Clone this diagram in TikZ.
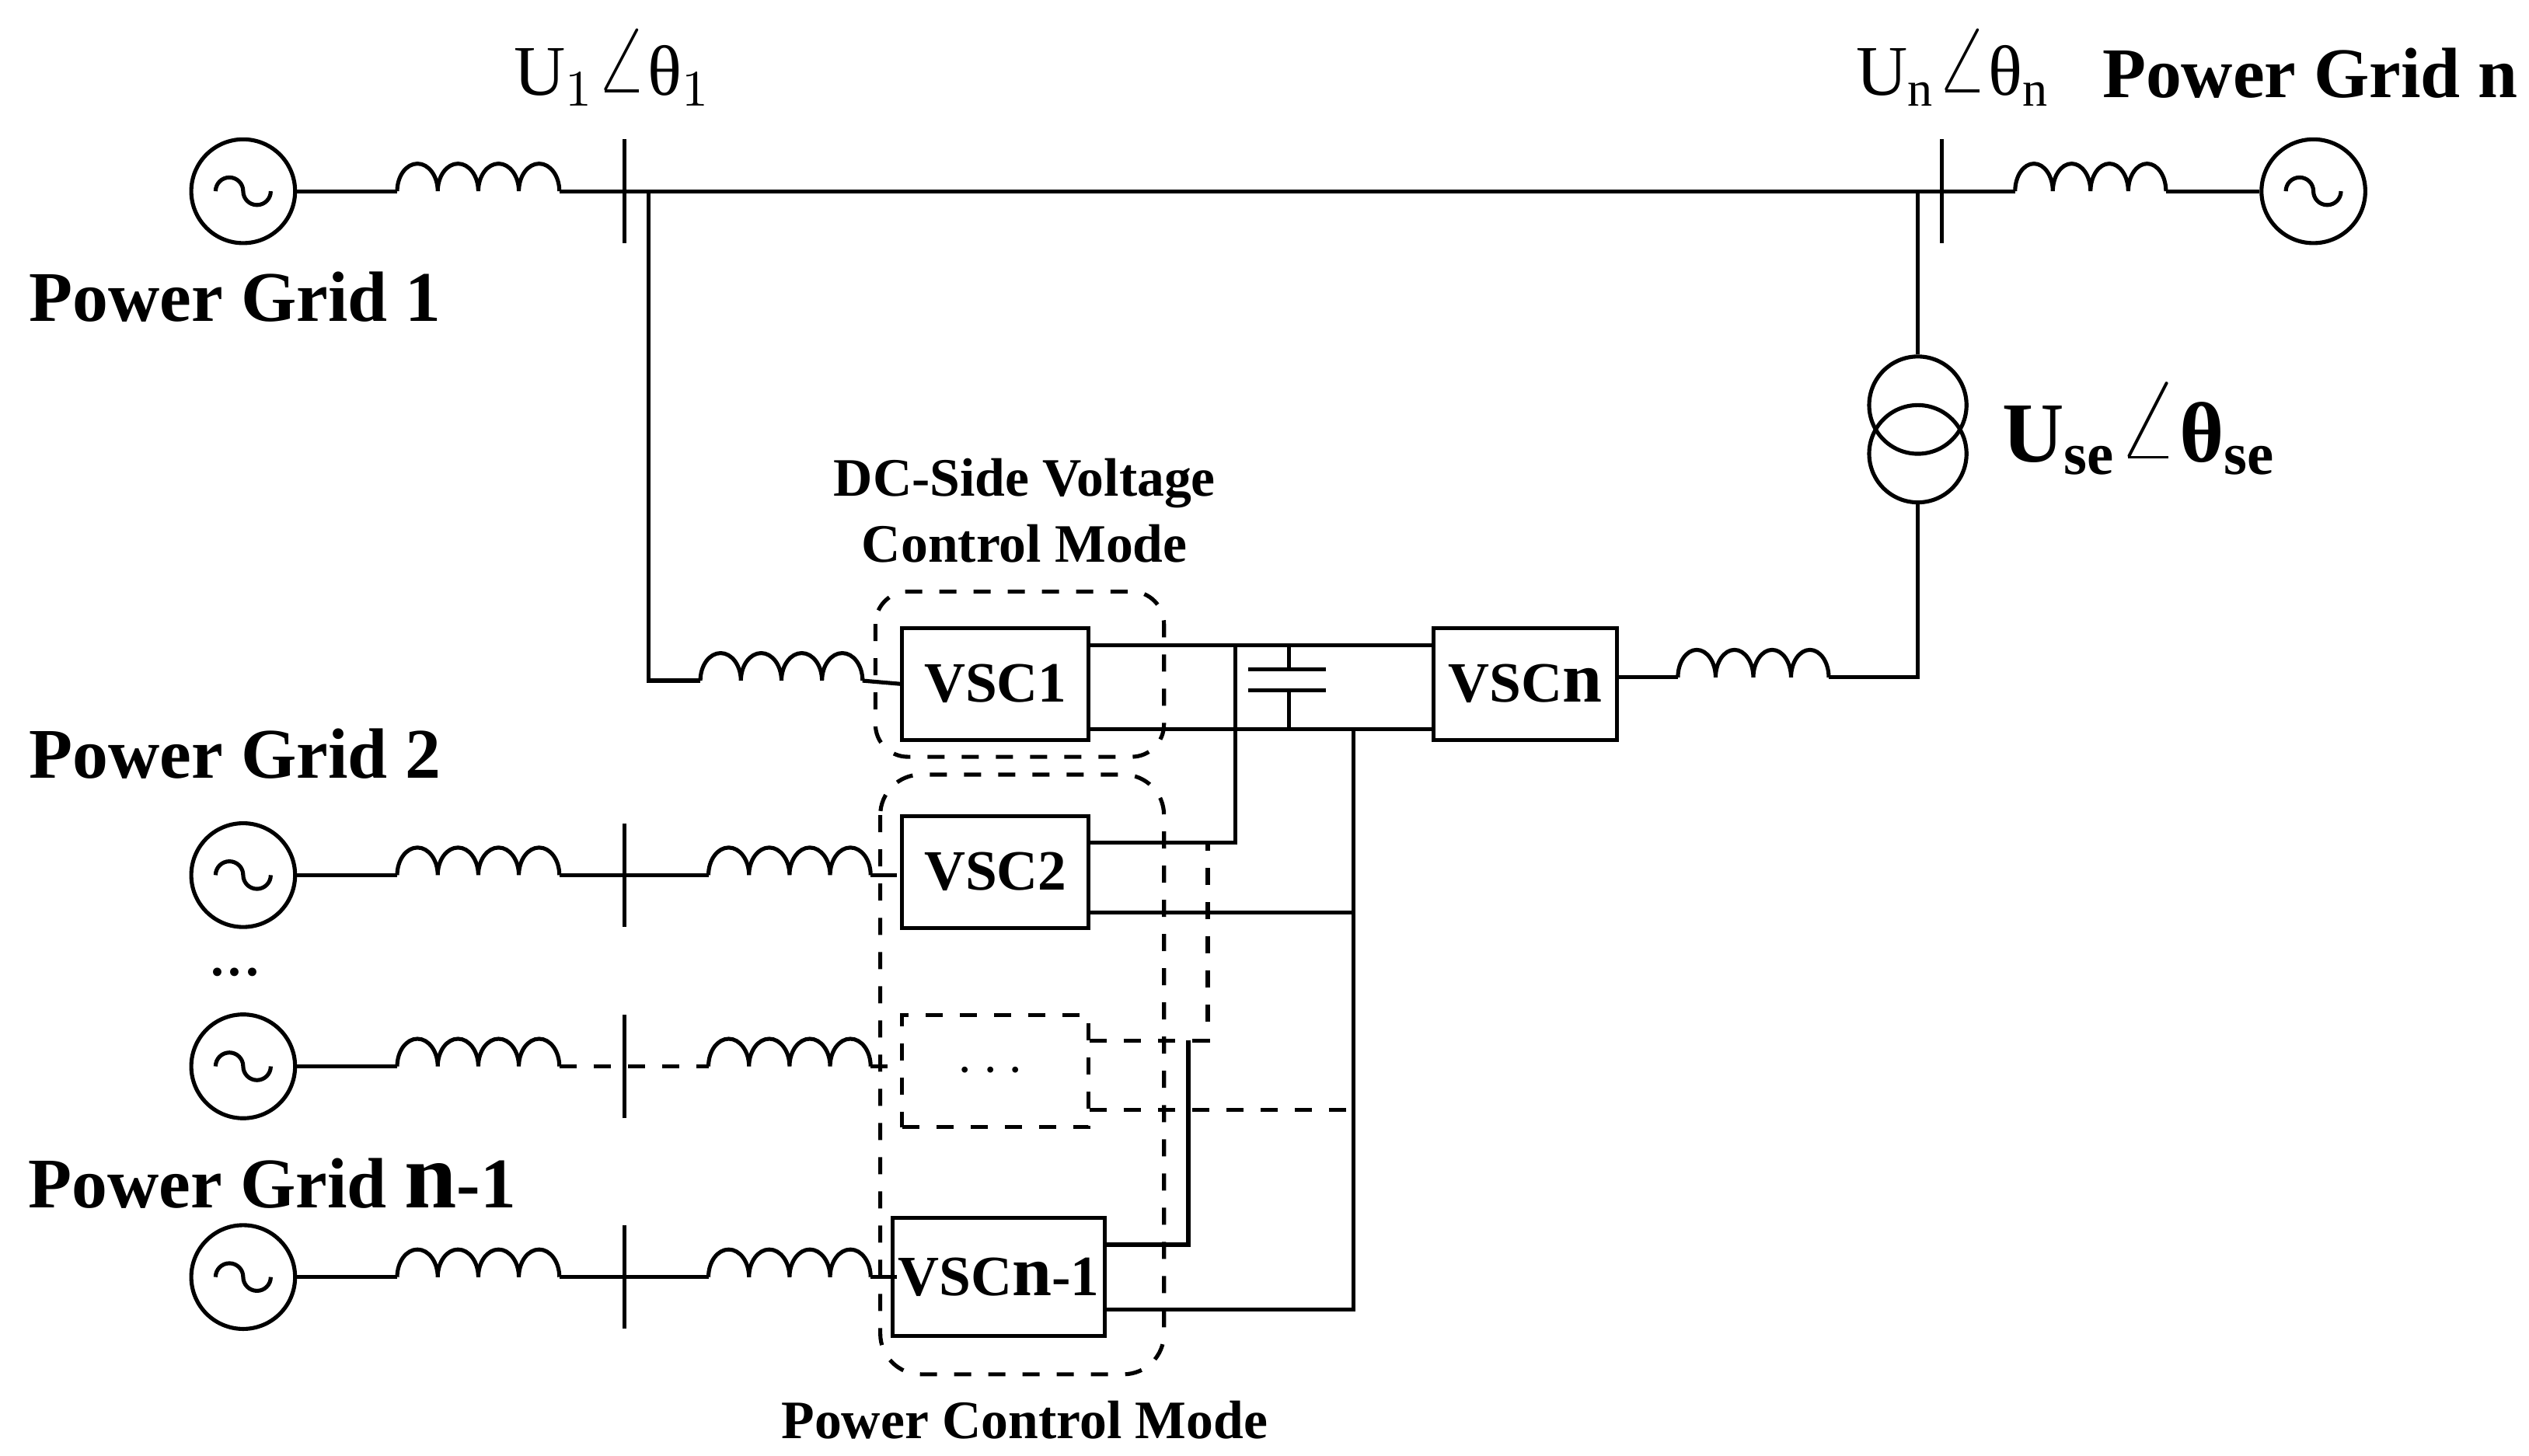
\documentclass[tikz,border=0pt]{standalone}
\usepackage{amsmath,bm}
\usepackage{fontspec}
\setmainfont{Liberation Serif}
\usetikzlibrary{positioning}
\tikzset{
    inductor/.pic={
		\draw (0,0) arc (180:0:0.125cm and 0.17cm) arc (180:0:0.125cm and 0.17cm)
		  arc (180:0:0.125cm and 0.17cm) arc (180:0:0.125cm and 0.17cm);
	}
}
\tikzset{
    busbar/.pic={
		\draw (0,-0.32cm) -- (0,0.32cm);
	}
}
\tikzset{
    src/.style={circle, draw, minimum size=0.64cm, inner sep=0pt,
      path picture={\draw ([xshift=-0.17cm]path picture bounding box.center)
        arc (180:0:0.085cm) arc (180:360:0.085cm);}},
    vsc/.style={draw, inner sep=1pt, minimum width=1.15cm, minimum height=0.69cm, font=\bfseries\fontsize{10}{12}\selectfont},
    grid/.style={font=\bfseries\fontsize{12.5}{15}\selectfont},
    mode/.style={font=\bfseries\fontsize{9.5}{11.5}\selectfont, align=center}
}
\newcommand{\angsym}{\raisebox{0.1ex}{\scalebox{1.3}{$\angle$}}}

\begin{document}
\begin{tikzpicture}[x=0.01cm, y=0.01cm, line width=0.7pt]
			\useasboundingbox (0,0) rectangle (1560,-898);
			% main line
			\node[src] (g1) at (150,-118) {};
			\node[src] (gn) at (1427,-118) {};
			\pic at (245,-118) {inductor};
			\pic[xscale=0.93] at (1243,-118) {inductor};
			\pic at (385,-118) {busbar};
			\pic at (1198,-118) {busbar};
			\draw (g1.east) -- (245,-118);
			\draw (345,-118) -- (1243,-118);
			\draw (1336,-118) -- (gn.west);
			\node[grid] (pg1) at (145,-183) {Power Grid 1};
			\node[grid] (pgn) at (1425,-45) {Power Grid n};
			\node[font=\fontsize{12.5}{15}\selectfont] (u1) at (378,-42) {U$_1$\angsym θ$_1$};
			\node[font=\fontsize{12.5}{15}\selectfont] (un) at (1205,-42) {U$_\mathrm{n}$\angsym θ$_\mathrm{n}$};
			% converters
			\node[vsc] (vsc1) at (614,-422) {VSC1};
			\node[vsc, minimum width=1.13cm] (vscn) at (941,-422) {VSC{\fontsize{12.5}{15}\selectfont n}};
			\node[vsc] (vsc2) at (614,-538) {VSC2};
			\node[vsc, dashed] (vscd) at (614,-661) {$\cdots$};
			\node[vsc, minimum width=1.27cm, minimum height=0.73cm] (vscm) at (616,-788) {VSC{\fontsize{12.5}{15}\selectfont n}-1};
			% shunt branch
			\draw (400,-118) -- (400,-420) -- (432,-420);
			\pic at (432,-420) {inductor};
			\draw (532,-420) -- (vsc1.west);
			% series branch
			\node[circle, draw, minimum size=0.6cm, inner sep=0pt] (tr1) at (1183,-250) {};
			\node[circle, draw, minimum size=0.6cm, inner sep=0pt] (tr2) at (1183,-280) {};
			\draw (1183,-118) -- (tr1.north);
			\draw (tr2.south) -- (1183,-418) -- (1128,-418);
			\pic[xscale=0.93] at (1035,-418) {inductor};
			\draw (1035,-418) -- (vscn.east |- 0,-418);
			\node[anchor=west, font=\bfseries\fontsize{15}{17}\selectfont] (use) at (1222,-265) {U$_\mathbf{se}$\angsym θ$_\mathbf{se}$};
			% dc link
			\draw (vsc1.east |- 0,-398) -- (vscn.west |- 0,-398);
			\draw (vsc1.east |- 0,-450) -- (vscn.west |- 0,-450);
			\draw (795,-398) -- (795,-413) (795,-426) -- (795,-450);
			\draw (770,-413) -- (818,-413) (770,-426) -- (818,-426);
			\draw (762,-398) -- (762,-520) -- (672,-520);
			\draw (835,-450) -- (835,-808) -- (vscm.east |- 0,-808);
			\draw (672,-563) -- (835,-563);
			\draw (733,-642) -- (733,-768) -- (vscm.east |- 0,-768);
			\draw[dashed] (672,-642) -- (745,-642) -- (745,-520);
			\draw[dashed] (672,-685) -- (835,-685);
			% lower grids
			\foreach \yy/\dsh in {540/solid, 658/dashed, 788/solid} {
				\node[src] at (150,-\yy) {};
				\draw (182,-\yy) -- (245,-\yy);
				\pic at (245,-\yy) {inductor};
				\pic at (385,-\yy) {busbar};
				\draw[\dsh] (345,-\yy) -- (437,-\yy);
				\pic at (437,-\yy) {inductor};
				\draw[\dsh] (537,-\yy) -- (553,-\yy);
			}
			\node[grid] (pg2) at (145,-465) {Power Grid 2};
			\node[font=\fontsize{12.5}{15}\selectfont] (dots) at (145,-600) {...};
			\node[grid] (pgm) at (168,-730) {Power Grid {\fontsize{16.5}{19}\selectfont n}-1};
			% control modes
			\draw[dashed, rounded corners=0.2cm] (540,-365) rectangle (718,-467);
			\draw[dashed, rounded corners=0.25cm] (543,-478) rectangle (718,-848);
			\node[mode] (m1) at (632,-315) {DC-Side Voltage\\Control Mode};
			\node[mode] (m2) at (632,-876) {Power Control Mode};
		\end{tikzpicture}
\end{document}
